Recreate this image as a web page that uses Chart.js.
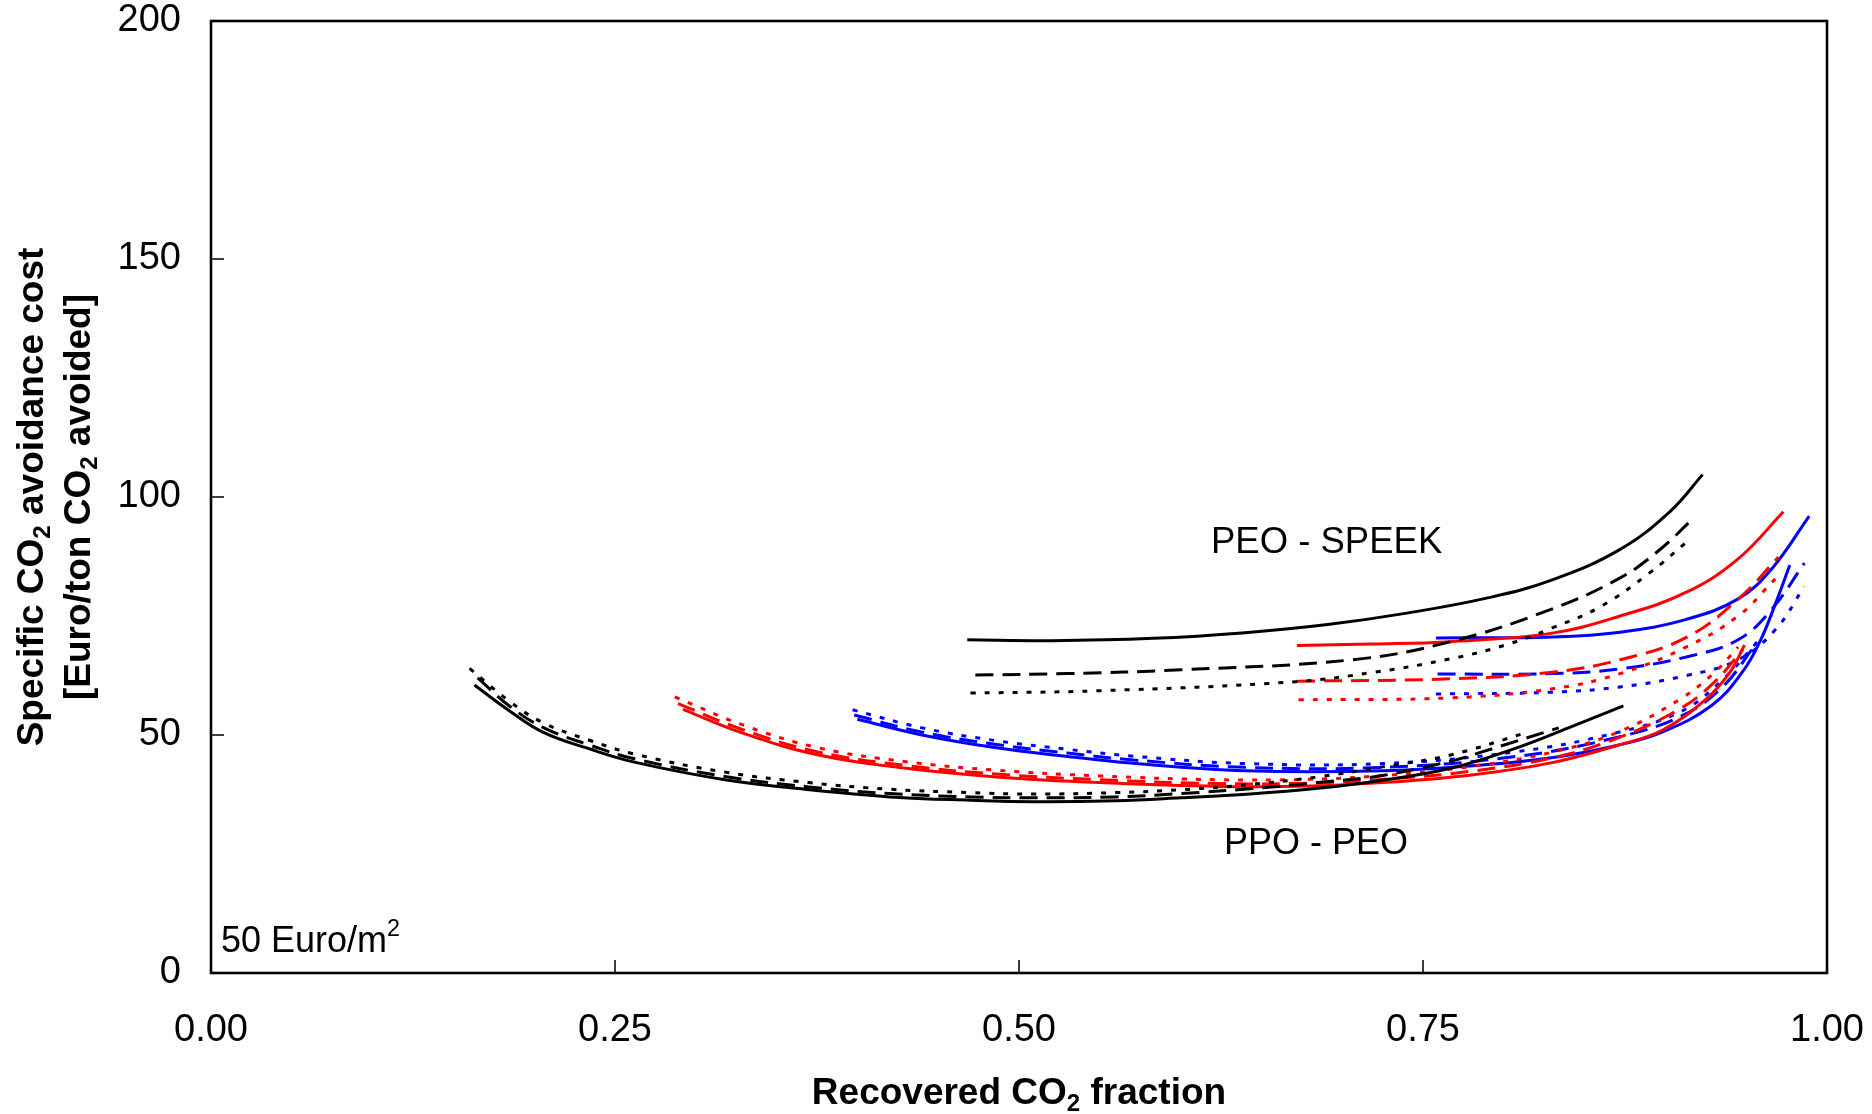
<!DOCTYPE html>
<html>
<head>
<meta charset="utf-8">
<script src="https://cdn.jsdelivr.net/npm/chart.js@4.4.1/dist/chart.umd.min.js"></script>
<style>
  body { margin: 0; background: #fff; }
  canvas { display: block; }
</style>
</head>
<body>
<canvas id="myChart" width="1872" height="1114"></canvas>
<script>
// axis ticks
const xTicks = [0, 0.25, 0.5, 0.75, 1];
const yTicks = [0, 50, 100, 150, 200];

// PPO - PEO (lower curves)
const lowBlackSolidX = [0.163, 0.185, 0.206, 0.235, 0.262, 0.318, 0.37, 0.42, 0.47, 0.51, 0.56, 0.6, 0.643, 0.685, 0.725, 0.767, 0.808, 0.84, 0.874];
const lowBlackSolidY = [60.5, 55, 50.5, 47, 44.3, 40.6, 38.5, 37, 36.3, 36, 36.2, 36.8, 37.6, 38.8, 40.5, 43, 47.3, 51.5, 56.1];
const lowBlackDashX = [0.165, 0.185, 0.206, 0.235, 0.262, 0.318, 0.37, 0.42, 0.47, 0.51, 0.56, 0.6, 0.643, 0.685, 0.725, 0.767, 0.787, 0.834];
const lowBlackDashY = [62, 56, 51.5, 47.8, 45, 41.3, 39.1, 37.7, 37, 36.8, 37, 37.7, 38.7, 40, 41.5, 44.5, 46.5, 51.5];
const lowBlackDotX = [0.16, 0.185, 0.206, 0.235, 0.262, 0.318, 0.37, 0.42, 0.47, 0.51, 0.56, 0.6, 0.643, 0.685, 0.725, 0.767, 0.815];
const lowBlackDotY = [64, 57, 52.5, 48.8, 46, 42.2, 40, 38.6, 37.9, 37.6, 37.9, 38.5, 39.6, 41.2, 43.3, 45.8, 50.6];

const lowRedSolidX = [0.292, 0.33, 0.376, 0.43, 0.486, 0.55, 0.624, 0.68, 0.73, 0.78, 0.83, 0.87, 0.898, 0.925, 0.94, 0.949];
const lowRedSolidY = [55.4, 50.3, 45.8, 43, 41.2, 40, 39.2, 39.3, 40.1, 41.6, 44.2, 47.8, 51, 57.5, 63.2, 68.9];
const lowRedDashX = [0.289, 0.33, 0.376, 0.43, 0.486, 0.55, 0.624, 0.68, 0.73, 0.78, 0.83, 0.87, 0.909, 0.93, 0.948];
const lowRedDashY = [56.6, 51, 46.4, 43.6, 41.8, 40.6, 39.8, 39.9, 40.8, 42.4, 45.2, 49.3, 55.5, 61, 68];
const lowRedDotX = [0.287, 0.33, 0.376, 0.43, 0.486, 0.55, 0.624, 0.68, 0.73, 0.78, 0.83, 0.87, 0.909, 0.93, 0.945];
const lowRedDotY = [58, 52, 47.3, 44.4, 42.6, 41.4, 40.6, 40.7, 41.6, 43.4, 46.4, 50.5, 57.5, 63, 68.5];

const lowBlueSolidX = [0.4, 0.44, 0.486, 0.53, 0.569, 0.64, 0.725, 0.79, 0.835, 0.87, 0.898, 0.929, 0.948, 0.959, 0.968, 0.977];
const lowBlueSolidY = [53.3, 50, 47.3, 45.5, 44.1, 42.5, 42.5, 43.8, 45.5, 47.8, 50.6, 56.3, 63.4, 70, 77.5, 85.7];
const lowBlueDashX = [0.398, 0.44, 0.486, 0.53, 0.569, 0.64, 0.725, 0.808, 0.87, 0.91, 0.935, 0.955];
const lowBlueDashY = [54.2, 50.6, 48, 46.2, 44.8, 43.2, 43.2, 45.5, 49.5, 54, 60, 68.6];
const lowBlueDotX = [0.397, 0.44, 0.486, 0.53, 0.569, 0.64, 0.725, 0.808, 0.87, 0.91, 0.935, 0.958];
const lowBlueDotY = [55.3, 51.5, 48.8, 47, 45.6, 44, 44, 46.5, 50.5, 55, 61.5, 70];

// PEO - SPEEK (upper curves)
const upBlackSolidX = [0.468, 0.52, 0.583, 0.64, 0.691, 0.74, 0.79, 0.83, 0.872, 0.903, 0.923];
const upBlackSolidY = [70, 69.8, 70.3, 71.5, 73.2, 75.6, 78.8, 82.6, 89, 97, 104.7];
const upBlackDashX = [0.473, 0.53, 0.6, 0.706, 0.767, 0.83, 0.872, 0.895, 0.917];
const upBlackDashY = [62.6, 62.9, 63.7, 65.8, 69.6, 76.5, 83, 88.5, 95.4];
const upBlackDotX = [0.47, 0.55, 0.671, 0.72, 0.767, 0.8, 0.83, 0.86, 0.89, 0.914];
const upBlackDotY = [58.8, 59.3, 61.2, 63.2, 66, 68.8, 72.5, 77, 84, 90.8];

const upRedSolidX = [0.672, 0.718, 0.767, 0.83, 0.872, 0.913, 0.945, 0.973];
const upRedSolidY = [68.8, 69.1, 69.6, 71.4, 75, 80, 87, 96.9];
const upRedDashX = [0.672, 0.767, 0.83, 0.872, 0.913, 0.945, 0.97];
const upRedDashY = [61.3, 61.8, 63.2, 65.8, 70.5, 78.5, 87.4];
const upRedDotX = [0.673, 0.767, 0.83, 0.872, 0.913, 0.945, 0.968];
const upRedDotY = [57.4, 57.8, 59.7, 62.9, 68.5, 75, 82.8];

const upBlueSolidX = [0.758, 0.83, 0.872, 0.913, 0.945, 0.966, 0.989];
const upBlueSolidY = [70.4, 70.6, 71.6, 74.3, 78.6, 85, 96];
const upBlueDashX = [0.759, 0.83, 0.872, 0.913, 0.945, 0.966, 0.986];
const upBlueDashY = [62.8, 62.9, 63.9, 66.4, 70, 76.5, 86.1];
const upBlueDotX = [0.758, 0.83, 0.872, 0.913, 0.945, 0.968, 0.986];
const upBlueDotY = [58.6, 59, 60.1, 62.5, 65.8, 72.1, 81.2];

const SOLID = [];
const DASH = [18, 9];
const DOT = [5, 9];

function pts(xs, ys) {
  return xs.map((x, i) => ({ x: x, y: ys[i] }));
}

function line(xs, ys, color, dash) {
  return {
    data: pts(xs, ys),
    borderColor: color,
    borderWidth: 3,
    borderDash: dash,
    borderCapStyle: "butt",
    pointRadius: 0,
    fill: false,
    tension: 0.4,
  };
}

const datasets = [
  line(lowBlackDotX, lowBlackDotY, "#000000", DOT),
  line(lowBlackDashX, lowBlackDashY, "#000000", DASH),
  line(lowBlackSolidX, lowBlackSolidY, "#000000", SOLID),
  line(lowRedDotX, lowRedDotY, "#ff0000", DOT),
  line(lowRedDashX, lowRedDashY, "#ff0000", DASH),
  line(lowRedSolidX, lowRedSolidY, "#ff0000", SOLID),
  line(lowBlueDotX, lowBlueDotY, "#0000ff", DOT),
  line(lowBlueDashX, lowBlueDashY, "#0000ff", DASH),
  line(lowBlueSolidX, lowBlueSolidY, "#0000ff", SOLID),
  line(upBlackDotX, upBlackDotY, "#000000", DOT),
  line(upBlackDashX, upBlackDashY, "#000000", DASH),
  line(upBlackSolidX, upBlackSolidY, "#000000", SOLID),
  line(upRedDotX, upRedDotY, "#ff0000", DOT),
  line(upRedDashX, upRedDashY, "#ff0000", DASH),
  line(upRedSolidX, upRedSolidY, "#ff0000", SOLID),
  line(upBlueDotX, upBlueDotY, "#0000ff", DOT),
  line(upBlueDashX, upBlueDashY, "#0000ff", DASH),
  line(upBlueSolidX, upBlueSolidY, "#0000ff", SOLID),
];

const FONT = "'Liberation Sans', Arial, sans-serif";

// draws text made of pieces, some of them sub/superscript
function richText(ctx, parts, x, y, size, weight, align) {
  const widths = parts.map((p) => {
    const s = p.sub || p.sup ? size * 0.65 : size;
    ctx.font = weight + " " + s + "px " + FONT;
    return ctx.measureText(p.t).width;
  });
  const total = widths.reduce((a, b) => a + b, 0);
  let cx = align === "center" ? x - total / 2 : x;
  ctx.textAlign = "left";
  ctx.textBaseline = "middle";
  parts.forEach((p, i) => {
    const s = p.sub || p.sup ? size * 0.65 : size;
    ctx.font = weight + " " + s + "px " + FONT;
    let dy = 0;
    if (p.sub) dy = size * 0.28;
    if (p.sup) dy = -size * 0.35;
    ctx.fillText(p.t, cx, y + dy);
    cx += widths[i];
  });
}

const framePlugin = {
  id: "frame",
  afterDraw(chart) {
    const ctx = chart.ctx;
    const a = chart.chartArea;
    const xs = chart.scales.x;
    const ys = chart.scales.y;
    ctx.save();
    ctx.strokeStyle = "#000";
    ctx.fillStyle = "#000";

    // inner tick marks
    ctx.lineWidth = 1.5;
    ctx.beginPath();
    xTicks.slice(1, -1).forEach((v) => {
      const px = xs.getPixelForValue(v);
      ctx.moveTo(px, a.bottom);
      ctx.lineTo(px, a.bottom - 13);
    });
    yTicks.slice(1, -1).forEach((v) => {
      const py = ys.getPixelForValue(v);
      ctx.moveTo(a.left, py);
      ctx.lineTo(a.left + 13, py);
    });
    ctx.stroke();

    // box
    ctx.lineWidth = 2.6;
    ctx.strokeRect(a.left, a.top, a.right - a.left, a.bottom - a.top);

    // axis titles
    richText(ctx, [{ t: "Recovered CO" }, { t: "2", sub: true }, { t: " fraction" }],
      (a.left + a.right) / 2, 1094, 37, "bold", "center");

    const midY = (a.top + a.bottom) / 2;
    ctx.save();
    ctx.translate(33, midY);
    ctx.rotate(-Math.PI / 2);
    richText(ctx, [{ t: "Specific CO" }, { t: "2", sub: true }, { t: " avoidance cost" }], 0, 0, 37, "bold", "center");
    ctx.restore();
    ctx.save();
    ctx.translate(80, midY);
    ctx.rotate(-Math.PI / 2);
    richText(ctx, [{ t: "[Euro/ton CO" }, { t: "2", sub: true }, { t: " avoided]" }], 0, 0, 37, "bold", "center");
    ctx.restore();

    // annotations
    richText(ctx, [{ t: "PEO - SPEEK" }], 1211, 543, 36.5, "normal", "left");
    richText(ctx, [{ t: "PPO - PEO" }], 1224, 844, 36, "normal", "left");
    richText(ctx, [{ t: "50 Euro/m" }, { t: "2", sup: true }], 221, 942, 36, "normal", "left");

    ctx.restore();
  },
};

const ctx = document.getElementById("myChart").getContext("2d");
new Chart(ctx, {
  type: "line",
  data: { datasets: datasets },
  plugins: [framePlugin],
  options: {
    responsive: false,
    animation: false,
    layout: { padding: { top: 21, right: 45, left: 0, bottom: 0 } },
    plugins: {
      legend: { display: false },
      tooltip: { enabled: false },
    },
    scales: {
      x: {
        type: "linear",
        min: 0,
        max: 1,
        afterBuildTicks: (s) => { s.ticks = xTicks.map((v) => ({ value: v })); },
        afterFit: (s) => {
          s.height = 141;
          s.paddingLeft = 0;
          s.paddingRight = 0;
        },
        grid: { display: false, drawTicks: false },
        border: { display: false },
        ticks: {
          padding: 35,
          color: "#000",
          font: { family: FONT, size: 38 },
          maxRotation: 0,
          autoSkip: false,
          callback: (v) => Number(v).toFixed(2),
        },
      },
      y: {
        type: "linear",
        min: 0,
        max: 200,
        afterBuildTicks: (s) => { s.ticks = yTicks.map((v) => ({ value: v })); },
        afterFit: (s) => {
          s.width = 211;
          s.paddingTop = 0;
          s.paddingBottom = 0;
        },
        grid: { display: false, drawTicks: false },
        border: { display: false },
        ticks: {
          padding: 30,
          color: "#000",
          font: { family: FONT, size: 38 },
          autoSkip: false,
        },
      },
    },
  },
});
</script>
</body>
</html>
